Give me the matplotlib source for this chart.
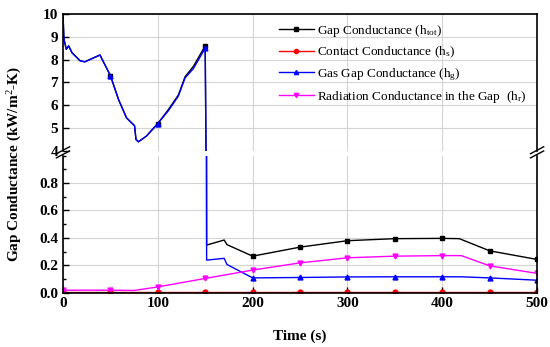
import numpy as np
import matplotlib
matplotlib.use("Agg")
import matplotlib.pyplot as plt
from matplotlib.ticker import MultipleLocator

plt.rcParams['font.family'] = ['Liberation Serif', 'DejaVu Serif']
plt.rcParams['mathtext.fontset'] = 'custom'
plt.rcParams['mathtext.rm'] = 'Liberation Serif'
plt.rcParams['mathtext.it'] = 'Liberation Serif'
plt.rcParams['mathtext.bf'] = 'Liberation Serif:bold'

# ---- data ----
t_tot = [0, 1, 3.5, 6, 9.5, 18, 23, 39, 50, 58.6, 67, 75.5, 77, 79.6, 88, 100,
         111, 121.7, 128.8, 137.5, 150, 151.5, 170, 173, 200, 250, 300, 350,
         400, 418, 450, 500]
h_tot = [10, 8.9, 8.45, 8.6, 8.3, 7.95, 7.9, 8.2, 7.3, 6.25, 5.45, 5.1, 4.5, 4.4,
         4.65, 5.2, 5.8, 6.45, 7.25, 7.7, 8.6, 0.347, 0.384, 0.35, 0.266, 0.332,
         0.379, 0.394, 0.396, 0.394, 0.305, 0.242]

t_gas = [0, 1, 3.5, 6, 9.5, 18, 23, 39, 50, 58.6, 67, 75.5, 77, 79.6, 88, 100,
         111, 121.7, 128.8, 137.5, 150, 151.5, 170, 173, 200, 250, 300, 350,
         400, 420, 450, 500]
h_gas = [10, 8.9, 8.45, 8.6, 8.3, 7.95, 7.9, 8.2, 7.3, 6.25, 5.45, 5.1, 4.5, 4.4,
         4.65, 5.2, 5.75, 6.4, 7.2, 7.6, 8.5, 0.237, 0.25, 0.205, 0.107, 0.11,
         0.114, 0.115, 0.115, 0.115, 0.107, 0.09]

t_rad = [0, 50, 75, 100, 150, 200, 250, 300, 350, 400, 420, 450, 500]
h_rad = [0.017, 0.017, 0.015, 0.041, 0.103, 0.164, 0.217, 0.254, 0.266, 0.27,
         0.27, 0.195, 0.14]

t_con = [0, 50, 100, 150, 200, 250, 300, 350, 400, 450, 500]
h_con = [0.003, 0.003, 0.003, 0.003, 0.003, 0.003, 0.003, 0.003, 0.003, 0.003, 0.003]

marker_times = [0, 50, 100, 150, 200, 250, 300, 350, 400, 450, 500]

x_ticks = [0, 100, 200, 300, 400, 500]
yu_ticks = [4, 5, 6, 7, 8, 9, 10]
yl_ticks = [0.0, 0.2, 0.4, 0.6, 0.8]

labels = ['Gap Conductance (h$_{tot}$)', 'Contact Conductance (h$_{s}$)',
          'Gas Gap Conductance (h$_{g}$)', 'Radiation Conductance in the Gap  (h$_{r}$)']

def mk(t, skip0=False):
    idx = [i for i, v in enumerate(t) if v in marker_times]
    if skip0:
        idx = [i for i in idx if t[i] != 0]
    return idx

fig = plt.figure(figsize=(5.5, 3.47), dpi=100)
L, W = 0.1145, 0.862
ax_u = fig.add_axes([L, 0.565, W, 0.395])
ax_l = fig.add_axes([L, 0.157, W, 0.394])

series = [
    (t_tot, h_tot, 'black', 's', True),
    (t_con, h_con, 'red', 'o', False),
    (t_gas, h_gas, 'blue', '^', True),
    (t_rad, h_rad, 'magenta', 'v', False),
]
for ax in (ax_u, ax_l):
    for (t, h, c, m, s0), lab in zip(series, labels):
        ax.plot(t, h, color=c, lw=1.0, marker=m, ms=3.5, markevery=mk(t, s0),
                label=lab)
    ax.set_xlim(0, 500)
    ax.grid(True, color='#d4d4d4', lw=0.8)
    ax.set_axisbelow(True)
    ax.tick_params(direction='in', which='both', labelsize=11, width=1)
    ax.tick_params(which='major', length=4)
    ax.tick_params(which='minor', length=2)
    for sp in ax.spines.values():
        sp.set_linewidth(1.2)

ax_u.set_ylim(4, 10)
ax_u.set_yticks(yu_ticks, [str(v) for v in yu_ticks], fontweight='bold')
ax_u.set_xticks(x_ticks)
ax_u.spines['bottom'].set_visible(False)
ax_u.tick_params(axis='x', which='both', bottom=False, labelbottom=False)

ax_l.set_ylim(0, 1.0)
ax_l.set_yticks(yl_ticks, ['%.1f' % v for v in yl_ticks], fontweight='bold')
ax_l.yaxis.set_minor_locator(MultipleLocator(0.1))
ax_l.set_xticks(x_ticks, [str(v) for v in x_ticks], fontweight='bold')
ax_l.xaxis.set_minor_locator(MultipleLocator(50))
ax_l.spines['top'].set_visible(False)
ax_l.set_xlim(0, 500)

leg = ax_u.legend(loc='upper left', bbox_to_anchor=(0.445, 0.975), frameon=False,
                  fontsize=9.5, handlelength=2.6, labelspacing=0.45, handletextpad=0.3,
                  borderaxespad=0)
for h in leg.legend_handles:
    h.set_markersize(3)

# break marks
for xf in (0.0, 1.0):
    for dy in (0.0, 0.012):
        fig.add_artist(plt.Line2D([L + xf * W - 0.012, L + xf * W + 0.012],
                                  [0.545 + dy, 0.565 + dy], color='black', lw=1.0,
                                  transform=fig.transFigure))

fig.text(0.027, 0.527, 'Gap Conductance (kW/m$^2$-K)', rotation=90, ha='center',
         va='center', fontsize=11, fontweight='bold')
fig.text(0.545, 0.032, 'Time (s)', ha='center', va='center', fontsize=11,
         fontweight='bold')

fig.savefig('out.png', dpi=100)
